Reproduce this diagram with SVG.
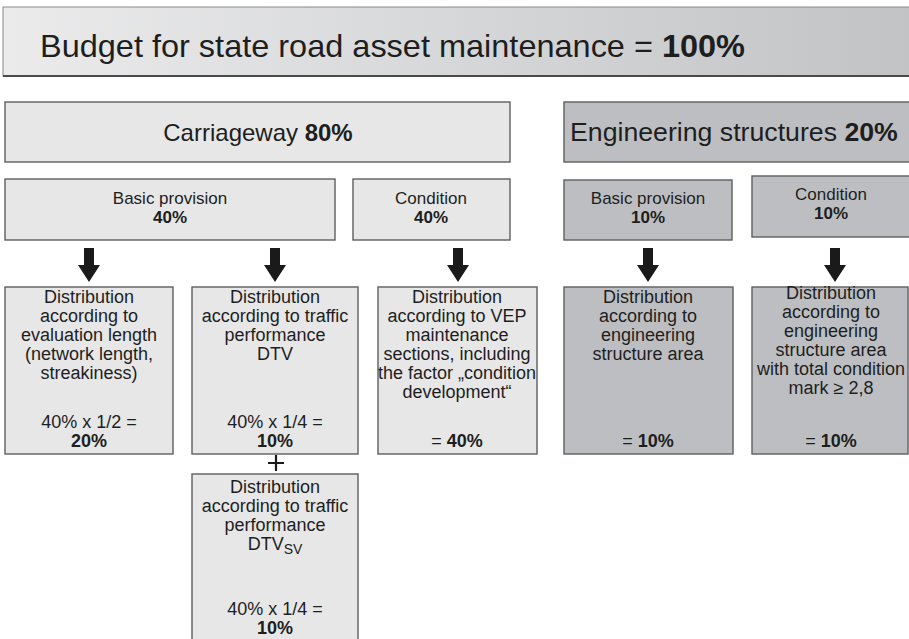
<svg xmlns="http://www.w3.org/2000/svg" width="909" height="639" viewBox="0 0 909 639">
<defs>
<linearGradient id="gTop" x1="0" y1="0" x2="1" y2="0">
<stop offset="0" stop-color="#ebebec"/>
<stop offset="1" stop-color="#c1c3c5"/>
</linearGradient>
<path id="arr" d="M-5,0 H5 V17 H11 L0,34 L-11,17 H-5 Z" fill="#1a1a1a"/>
</defs>
<style>
.lt{fill:#e7e7e7;stroke:#5e5e5e;stroke-width:1.4}
.dk{fill:#bdbec1;stroke:#5e5e5e;stroke-width:1.4}
text{font-family:"Liberation Sans",Arial,sans-serif;fill:#1e1e1e;text-anchor:middle}
.h{font-size:17px}
.s{font-size:18px}
.b{font-weight:bold}
</style>
<rect width="909" height="639" fill="#fff"/>
<g id="budget">
<rect x="3" y="7" width="910" height="69" fill="url(#gTop)" stroke="#8a8a8a" stroke-width="1"/>
<line x1="3" y1="76" x2="909" y2="76" stroke="#4a4a4a" stroke-width="2"/>
<text x="40" y="57" textLength="705" lengthAdjust="spacingAndGlyphs" style="font-size:32px;text-anchor:start">Budget for state road asset maintenance = <tspan class="b">100%</tspan></text>
</g>
<g id="carriageway">
<rect class="lt" x="5" y="102" width="505" height="60"/>
<text x="258" y="141" style="font-size:24px">Carriageway <tspan class="b">80%</tspan></text>
</g>
<g id="engineering">
<rect class="dk" x="564" y="102" width="350" height="60"/>
<text x="570" y="141" style="font-size:26.7px;text-anchor:start">Engineering structures <tspan class="b">20%</tspan></text>
</g>
<g id="cw-basic">
<rect class="lt" x="5" y="179" width="330" height="61"/>
<text class="h" x="170" y="204">Basic provision</text>
<text class="h b" x="170" y="223">40%</text>
</g>
<g id="cw-condition">
<rect class="lt" x="353" y="179" width="157" height="61"/>
<text class="h" x="431" y="204">Condition</text>
<text class="h b" x="431" y="223">40%</text>
</g>
<g id="es-basic">
<rect class="dk" x="564" y="180" width="168" height="60"/>
<text class="h" x="648" y="204">Basic provision</text>
<text class="h b" x="648" y="223">10%</text>
</g>
<g id="es-condition">
<rect class="dk" x="752" y="176" width="160" height="61"/>
<text class="h" x="831" y="200">Condition</text>
<text class="h b" x="831" y="219">10%</text>
</g>
<g id="connectors">
<use href="#arr" x="89" y="248"/>
<use href="#arr" x="275" y="248"/>
<use href="#arr" x="458" y="248"/>
<use href="#arr" x="648" y="248"/>
<use href="#arr" x="835" y="248"/>
<path d="M276,455 V471 M268,463 H284" stroke="#1a1a1a" stroke-width="2.2" fill="none"/>
</g>
<g id="dist-length">
<rect class="lt" x="5" y="287" width="168" height="167"/>
<text class="s" x="89" y="303">Distribution</text>
<text class="s" x="89" y="322">according to</text>
<text class="s" x="89" y="341">evaluation length</text>
<text class="s" x="89" y="360">(network length,</text>
<text class="s" x="89" y="379">streakiness)</text>
<text class="s" x="89" y="428">40% x 1/2 =</text>
<text class="s b" x="89" y="447">20%</text>
</g>
<g id="dist-dtv">
<rect class="lt" x="192" y="287" width="166" height="167"/>
<text class="s" x="275" y="303">Distribution</text>
<text class="s" x="275" y="322">according to traffic</text>
<text class="s" x="275" y="341">performance</text>
<text class="s" x="275" y="360">DTV</text>
<text class="s" x="275" y="428">40% x 1/4 =</text>
<text class="s b" x="275" y="447">10%</text>
</g>
<g id="dist-vep">
<rect class="lt" x="378" y="287" width="159" height="167"/>
<text class="s" x="457" y="303">Distribution</text>
<text class="s" x="457" y="322">according to VEP</text>
<text class="s" x="457" y="341">maintenance</text>
<text class="s" x="457" y="360">sections, including</text>
<text class="s" x="457" y="379">the factor „condition</text>
<text class="s" x="457" y="398">development“</text>
<text class="s" x="457" y="447">= <tspan class="b">40%</tspan></text>
</g>
<g id="dist-es-area">
<rect class="dk" x="564" y="287" width="169" height="167"/>
<text class="s" x="648" y="303">Distribution</text>
<text class="s" x="648" y="322">according to</text>
<text class="s" x="648" y="341">engineering</text>
<text class="s" x="648" y="360">structure area</text>
<text class="s" x="648" y="447">= <tspan class="b">10%</tspan></text>
</g>
<g id="dist-es-condition">
<rect class="dk" x="752" y="287" width="156" height="167"/>
<text class="s" x="831" y="299">Distribution</text>
<text class="s" x="831" y="318">according to</text>
<text class="s" x="831" y="337">engineering</text>
<text class="s" x="831" y="356">structure area</text>
<text class="s" x="831" y="375">with total condition</text>
<text class="s" x="831" y="394">mark ≥ 2,8</text>
<text class="s" x="831" y="447">= <tspan class="b">10%</tspan></text>
</g>
<g id="dist-dtvsv">
<rect class="lt" x="192" y="474" width="166" height="175"/>
<text class="s" x="275" y="493">Distribution</text>
<text class="s" x="275" y="512">according to traffic</text>
<text class="s" x="275" y="531">performance</text>
<text class="s" x="275" y="550">DTV<tspan style="font-size:14px" dy="4">SV</tspan></text>
<text class="s" x="275" y="615">40% x 1/4 =</text>
<text class="s b" x="275" y="634">10%</text>
</g>
</svg>
